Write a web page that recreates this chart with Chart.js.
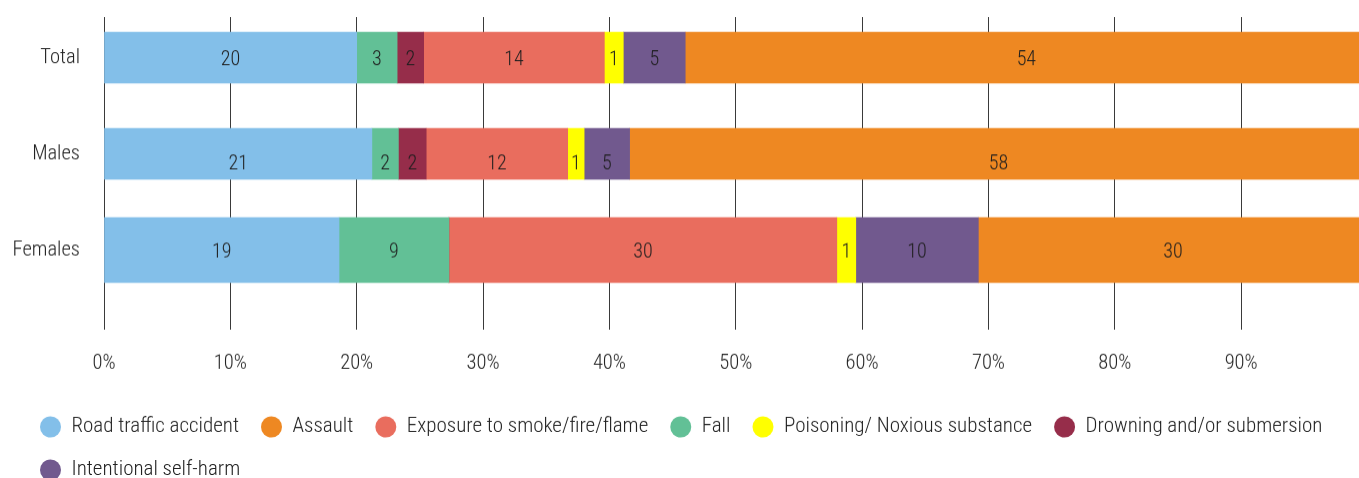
<!DOCTYPE html>
<html>
<head>
<meta charset="utf-8">
<script src="https://cdn.jsdelivr.net/npm/chart.js@4.4.1/dist/chart.umd.min.js"></script>
<style>
  html, body { margin: 0; padding: 0; background: #fff; overflow: hidden; }
  #wrap { position: relative; width: 1370px; height: 489.5px; }
</style>
</head>
<body>
<div id="wrap"><canvas id="injuryChart"></canvas></div>
<script>
const categories = ['Total', 'Males', 'Females'];
const causes = ['Road traffic accident', 'Fall', 'Drowning and/or submersion', 'Exposure to smoke/fire/flame',
  'Poisoning/ Noxious substance', 'Intentional self-harm', 'Assault'];

// Segment widths (% of each row).
const roadTraffic = [20.0, 21.2, 18.6];
const fall = [3.2, 2.1, 8.7];
const drowning = [2.1, 2.2, 0];
const exposure = [14.3, 11.2, 30.7];
const poisoning = [1.5, 1.3, 1.5];
const selfHarm = [4.9, 3.6, 9.7];
const assault = [54.0, 58.4, 30.8];

// Numbers printed inside the segments.
const roadTrafficLbl = [20, 21, 19];
const fallLbl = [3, 2, 9];
const drowningLbl = [2, 2, null];
const exposureLbl = [14, 12, 30];
const poisoningLbl = [1, 1, 1];
const selfHarmLbl = [5, 5, 10];
const assaultLbl = [54, 58, 30];

const xTicks = [0, 10, 20, 30, 40, 50, 60, 70, 80, 90];
const legendOrder = ['Road traffic accident', 'Assault', 'Exposure to smoke/fire/flame', 'Fall',
  'Poisoning/ Noxious substance', 'Drowning and/or submersion', 'Intentional self-harm'];

(function () {
  const FONT = "'Roboto Condensed', Roboto, sans-serif";
  const colors = ['#83bfe9', '#62c096', '#962d4a', '#e96d5e', '#ffff00', '#71598e', '#ee8822'];
  const values = [roadTraffic, fall, drowning, exposure, poisoning, selfHarm, assault];
  const printed = [roadTrafficLbl, fallLbl, drowningLbl, exposureLbl, poisoningLbl, selfHarmLbl, assaultLbl];

  Chart.defaults.font.family = FONT;
  Chart.defaults.font.size = 20.5;
  Chart.defaults.font.weight = 300;
  Chart.defaults.color = '#333';

  // Females row is drawn thicker than the other two, so every cause gets two datasets.
  const datasets = [];
  causes.forEach((name, i) => {
    const rows = [[0, 1, 51], [2, 2, 65]];
    rows.forEach(([from, to, thick]) => {
      const idx = categories.map((_, r) => r).filter((r) => r >= from && r <= to);
      datasets.push({
        label: name,
        data: idx.map((r) => ({ x: values[i][r], y: r })),
        printed: idx.map((r) => printed[i][r]),
        backgroundColor: colors[i],
        borderWidth: 0,
        barThickness: thick,
      });
    });
  });

  const barLabels = {
    id: 'barLabels',
    afterDatasetsDraw(chart, args, opts) {
      const ctx = chart.ctx;
      ctx.save();
      ctx.font = `300 ${opts.size}px ${FONT}`;
      ctx.fillStyle = opts.color;
      ctx.textAlign = 'center';
      ctx.textBaseline = 'middle';
      chart.data.datasets.forEach((ds, di) => {
        chart.getDatasetMeta(di).data.forEach((bar, j) => {
          const txt = ds.printed[j];
          if (txt == null) return;
          const row = ds.data[j].y;
          ctx.fillText(String(txt), (bar.x + bar.base) / 2, bar.y + (opts.nudge[row] || 0));
        });
      });
      ctx.restore();
    },
  };

  // Legend sits indented from the left edge, the y labels do not.
  const legendIndent = {
    id: 'legendIndent',
    afterLayout(chart, args, opts) {
      if (chart.legend) chart.legend.left += opts.by;
    },
  };

  new Chart(document.getElementById('injuryChart'), {
    type: 'bar',
    data: { datasets },
    plugins: [barLabels, legendIndent],
    options: {
      indexAxis: 'y',
      responsive: true,
      maintainAspectRatio: false,
      animation: false,
      events: [],
      layout: { padding: { top: 17, left: 0, right: 2.5, bottom: 0 } },
      plugins: {
        tooltip: { enabled: false },
        barLabels: { size: 20, color: '#1e1e1e', nudge: [2.5, 10, 2] },
        legendIndent: { by: 18 },
        legend: {
          position: 'bottom',
          align: 'start',
          labels: {
            usePointStyle: true,
            pointStyle: 'circle',
            pointStyleWidth: 21,
            boxHeight: 15,
            padding: 22,
            color: '#222',
            font: { size: 21, family: FONT, weight: 300 },
            filter: (item) => item.datasetIndex % 2 === 0,
            sort: (a, b) => legendOrder.indexOf(a.text) - legendOrder.indexOf(b.text),
          },
        },
      },
      scales: {
        x: {
          type: 'linear',
          stacked: true,
          min: 0,
          max: 100,
          afterBuildTicks: (ax) => { ax.ticks = xTicks.map((v) => ({ value: v })); },
          afterFit: (ax) => { ax.height = 64.5; },
          ticks: { callback: (v) => v + '%', padding: 22, color: '#222', maxRotation: 0 },
          grid: { color: '#3a3a3a', lineWidth: 1, drawTicks: false },
          border: { display: false },
        },
        y: {
          type: 'linear',
          stacked: true,
          reverse: true,
          offset: false,
          min: -0.422,
          max: 2.828,
          afterBuildTicks: (ax) => { ax.ticks = categories.map((c, i) => ({ value: i })); },
          afterFit: (ax) => { ax.width = 104; ax.paddingTop = 0; ax.paddingBottom = 0; },
          ticks: { callback: (v) => categories[v], padding: 24, color: '#222' },
          grid: { display: false, drawTicks: false },
          border: { display: false },
        },
      },
    },
  });
})();
</script>
</body>
</html>
